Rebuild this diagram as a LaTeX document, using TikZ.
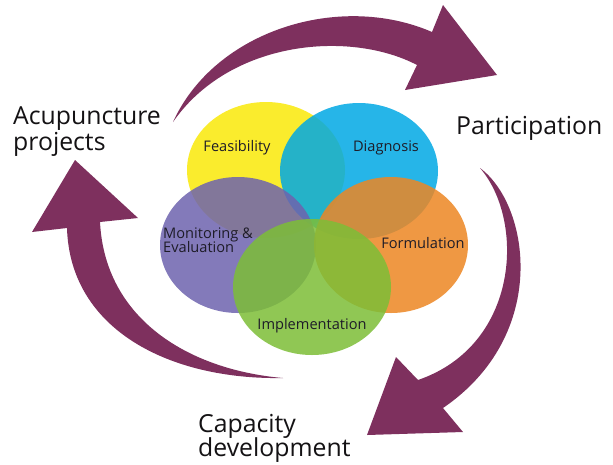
\documentclass[tikz,border=0pt]{standalone}
\usepackage{fontspec}
\setmainfont{Open Sans}
\begin{document}
\begin{tikzpicture}[x=1pt,y=-1pt,
  arrowfill/.style={fill=maroon, draw=none},
  petal/.style={draw=none, fill opacity=0.85},
  biglabel/.style={font=\fontsize{24.8}{28}\selectfont, text=txt, inner sep=0pt, anchor=base west},
  smalllabel/.style={font=\fontsize{14.6}{16}\selectfont, text=txt2, inner sep=0pt}
]
\definecolor{maroon}{RGB}{126,48,94}
\definecolor{txt}{RGB}{20,18,20}
\definecolor{txt2}{RGB}{30,28,40}
\definecolor{cyel}{RGB}{250,236,45}
\definecolor{cblu}{RGB}{0,169,228}
\definecolor{cpur}{RGB}{110,99,174}
\definecolor{cora}{RGB}{237,134,35}
\definecolor{cgre}{RGB}{125,190,55}
\useasboundingbox (0,0) rectangle (613,464);
\fill[white] (0,0) rectangle (613,464);

% petals
\fill[cyel] (266,170) ellipse [x radius=79, y radius=68];
\fill[cblu, petal] (359,171) ellipse [x radius=79, y radius=68];
\fill[cpur, petal] (238,245) ellipse [x radius=78, y radius=68];
\fill[cora, petal] (391,245) ellipse [x radius=77, y radius=68];
\fill[cgre, petal] (312,287) ellipse [x radius=79, y radius=68];

% arrows
\fill[arrowfill] (173,122) .. controls (215,30) and (340,-8) .. (432,32)
  -- (443,5) -- (497,75) -- (405,90) -- (417,65)
  .. controls (350,30) and (230,40) .. (173,122) -- cycle;
\fill[arrowfill] (480,168) .. controls (530,205) and (550,335) .. (443,408)
  -- (463,432) -- (367,435) -- (396,357) -- (418,380)
  .. controls (520,345) and (525,220) .. (480,168) -- cycle;
\fill[arrowfill] (283,378) .. controls (170,380) and (70,330) .. (67,228)
  -- (32,232) -- (75,160) -- (138,218) -- (100,222)
  .. controls (105,320) and (190,370) .. (283,378) -- cycle;

% labels
\node[smalllabel] (fea) at (237,148) {Feasibility};
\node[smalllabel] (dia) at (386,148) {Diagnosis};
\node[smalllabel] (for) at (423,243) {Formulation};
\node[smalllabel] (imp) at (312,326) {Implementation};
\node[smalllabel, anchor=base west] (mon) at (163,238) {Monitoring \&};
\node[smalllabel, anchor=base west] (eva) at (163,252) {Evaluation};

\node[biglabel] (acu) at (13,124) {Acupuncture};
\node[biglabel] (pro) at (13,150) {projects};
\node[biglabel] (par) at (456,134) {Participation};
\node[biglabel] (cap) at (198,432) {Capacity};
\node[biglabel] (dev) at (198,456) {development};
\end{tikzpicture}
\end{document}
